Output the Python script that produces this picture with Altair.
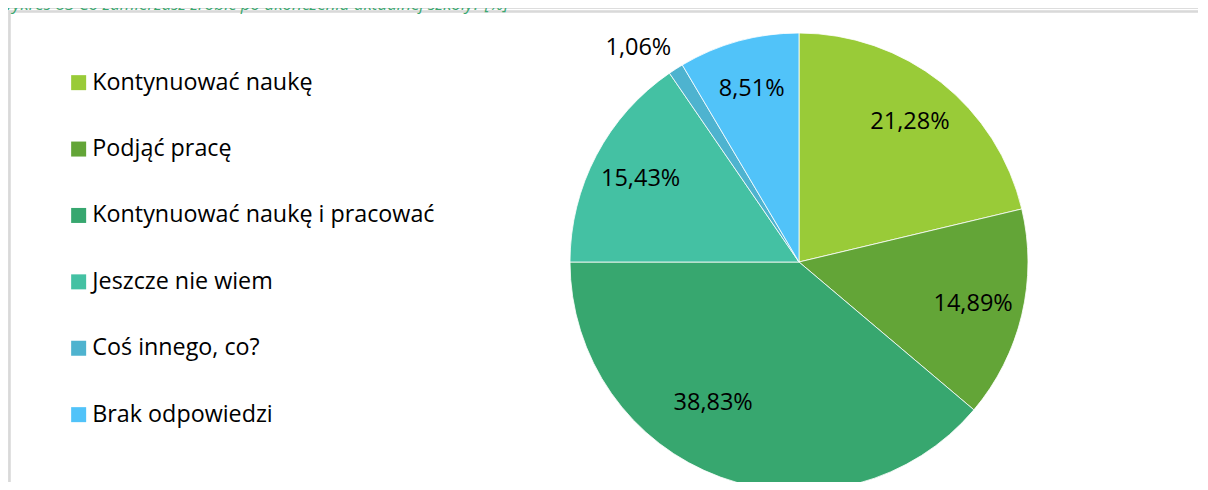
import altair as alt
import pandas as pd

categories = [
    "Kontynuować naukę",
    "Podjąć pracę",
    "Kontynuować naukę i pracować",
    "Jeszcze nie wiem",
    "Coś innego, co?",
    "Brak odpowiedzi",
]
values = [21.28, 14.89, 38.83, 15.43, 1.06, 8.51]
labels = ["21,28%", "14,89%", "38,83%", "15,43%", "1,06%", "8,51%"]
colors = ["#99CB38", "#63A537", "#37A76F", "#44C1A3", "#4EB3CF", "#51C3F9"]
title_text = "Wykres 83 Co zamierzasz zrobić po ukończeniu aktualnej szkoły? [%]"

df = pd.DataFrame({
    "kat": categories,
    "val": values,
    "lab": labels,
    "ord": list(range(len(categories))),
})

W, H = 1190, 474
CX, CY = 791, 254
FONT = "Open Sans"

color_scale = alt.Scale(domain=categories, range=colors)
theta_scale = alt.Scale(domain=[0, 100])

pie = alt.Chart(df).mark_arc(radius=229, stroke="white", strokeWidth=0.8, clip=True).encode(
    theta=alt.Theta("val:Q", stack=True, scale=theta_scale),
    order=alt.Order("ord:Q"),
    x=alt.value(CX),
    y=alt.value(CY),
    color=alt.Color(
        "kat:N",
        scale=color_scale,
        sort=categories,
        legend=alt.Legend(
            title=None,
            orient="none",
            legendX=59,
            legendY=63,
            symbolType="square",
            symbolSize=225,
            symbolStrokeWidth=0,
            labelFont=FONT,
            labelFontSize=23.3,
            labelColor="#000000",
            labelOffset=2,
            rowPadding=42.4,
            labelLimit=600,
        ),
    ),
)

lab_base = (
    alt.Chart(df)
    .transform_window(cum="sum(val)", sort=[alt.SortField("ord")], frame=[None, 0])
    .transform_calculate(mid="datum.cum - datum.val / 2")
    .encode(
        theta=alt.Theta("mid:Q", scale=theta_scale),
        x=alt.value(CX),
        y=alt.value(CY),
        text="lab:N",
    )
)

inner = lab_base.transform_filter(
    (alt.datum.val >= 2) & (alt.datum.val < 30)
).mark_text(radius=179, font=FONT, fontSize=23.5, color="#000000")
big = lab_base.transform_filter(alt.datum.val >= 30).mark_text(
    radius=177, font=FONT, fontSize=23.5, color="#000000", dx=-25, dy=-25
)
outer = lab_base.transform_filter(alt.datum.val < 2).mark_text(
    radius=267, font=FONT, fontSize=23.5, color="#000000", dx=-17, dy=11
)

frame_top = alt.Chart(df).mark_rule(color="#D9D9D9", strokeWidth=1.5).encode(
    x=alt.value(1), x2=alt.value(1199), y=alt.value(3.5)
)
frame_left = alt.Chart(df).mark_rule(color="#D9D9D9", strokeWidth=1.5).encode(
    x=alt.value(1.5), y=alt.value(3), y2=alt.value(H)
)

title = alt.Chart(pd.DataFrame({"t": [title_text]})).mark_text(
    align="left", baseline="alphabetic", font=FONT, fontSize=17,
    fontStyle="italic", color="#3AA86F"
).encode(x=alt.value(-10), y=alt.value(1.5), text="t:N")

chart = alt.layer(frame_top, frame_left, pie, inner, big, outer, title).properties(
    width=W, height=H,
    autosize=alt.AutoSizeParams(type="none"),
    padding=0,
).configure_view(stroke=None).configure(background="white")

chart.save("out.html", embed_options={"renderer": "svg", "actions": False})
